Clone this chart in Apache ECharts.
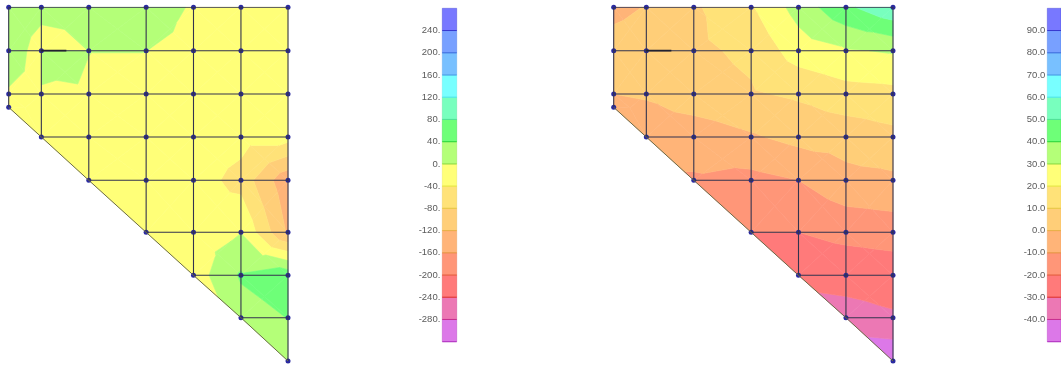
<!DOCTYPE html>
<html>
<head>
<meta charset="utf-8">
<style>html,body{margin:0;padding:0;background:#fff}#c{width:1061px;height:367px}</style>
<script src="https://cdn.jsdelivr.net/npm/echarts@6/dist/echarts.min.js"></script>
</head>
<body>
<div id="c"></div>
<script>
// Mesh stations (model units)
const xStations = [0, 32.6, 80, 137.3, 184.6, 232, 279];
const yStations = [0, 43.4, 86.7, 100, 129.7, 173, 225, 268, 310.4, 353.7];

// Nodal values, one row per station in yStations, one column per station in xStations
const leftValues = [
  [20, 10, 6, 30, -6, -10, -10],
  [19, -15, 0.3, 0.3, -15, -15, -15],
  [-3.6, -4, -2, -10, -15, -15, -15],
  [-6, null, null, null, null, null, null],
  [null, -8, -10, -12, -12, -25, -25],
  [null, null, -8, -10, -20, -55, -150],
  [null, null, null, -8, -16, -1, -125],
  [null, null, null, null, -22, 45, 65],
  [null, null, null, null, null, 20, 41],
  [null, null, null, null, null, null, 15]
];
const rightValues = [
  [-3, 0.5, 8.5, 19, 34, 48, 58],
  [4.5, 6, 8, 12, 25, 29, 31],
  [0, 1, 6, 9, 11.5, 16, 17],
  [-2, null, null, null, null, null, null],
  [null, -6, -6, -1.2, 3, 4, 7.3],
  [null, null, -11, -13, -10, -3, -2],
  [null, null, null, -20, -20, -17, -15.3],
  [null, null, null, null, -28, -27, -26],
  [null, null, null, null, null, -33, -31],
  [null, null, null, null, null, null, -49]
];
// The left field jumps across the beam: this element's upper-left corner differs
const leftJump = { row: 1, col: 1, value: 15 };

// Contour levels and their labels
const leftLevels = [-280, -240, -200, -160, -120, -80, -40, 0, 40, 80, 120, 160, 200, 240];
const leftLabels = ["-280.", "-240.", "-200.", "-160.", "-120.", "-80.", "-40.", "0.", "40.", "80.", "120.", "160.", "200.", "240."];
const rightLevels = [-40, -30, -20, -10, 0, 10, 20, 30, 40, 50, 60, 70, 80, 90];
const rightLabels = ["-40.0", "-30.0", "-20.0", "-10.0", "0.0", "10.0", "20.0", "30.0", "40.0", "50.0", "60.0", "70.0", "80.0", "90.0"];

// Band colours, lowest band first
const bandColors = ['#DC78E8', '#EC78B4', '#FF7A7A', '#FF9678', '#FFB478', '#FFCE78', '#FFE278', '#FFFF78',
  '#B4FF78', '#6EFF78', '#78FFBE', '#78FFFF', '#78C0FF', '#78A0FF', '#7878FF'];
const bandEdges = ['#B030C0', '#C83090', '#E03838', '#E86848', '#E89848', '#E8B048', '#E8C848', '#E8E848',
  '#90E048', '#30D840', '#50E098', '#50E8E8', '#50A0E8', '#4070E0', '#3838D0'];

const chart = echarts.init(document.getElementById('c'), null, { renderer: 'canvas' });

function clip(poly, level, keepAbove) {
  const out = [];
  for (let i = 0; i < poly.length; i++) {
    const a = poly[i], b = poly[(i + 1) % poly.length];
    const ia = keepAbove ? a[2] >= level : a[2] <= level;
    const ib = keepAbove ? b[2] >= level : b[2] <= level;
    if (ia) out.push(a);
    if (ia !== ib) {
      const t = (level - a[2]) / (b[2] - a[2]);
      out.push([a[0] + t * (b[0] - a[0]), a[1] + t * (b[1] - a[1]), level]);
    }
  }
  return out;
}

function buildCells(values) {
  const cells = [];
  const rowsIn = c => values.map((r, i) => r[c] !== null ? i : -1).filter(i => i >= 0);
  for (let c = 0; c < xStations.length - 1; c++) {
    const a = rowsIn(c), b = rowsIn(c + 1);
    const shared = a.filter(i => b.includes(i));
    for (let k = 0; k + 1 < shared.length; k++) {
      cells.push([[shared[k], c], [shared[k], c + 1], [shared[k + 1], c + 1], [shared[k + 1], c]]);
    }
    const last = shared[shared.length - 1];
    const extraA = a.filter(i => i > last), extraB = b.filter(i => i > last);
    if (extraA.length && extraB.length) {
      cells.push([[last, c], [last, c + 1], [extraB[0], c + 1], [extraA[0], c]]);
    } else if (extraB.length) {
      cells.push([[last, c], [last, c + 1], [extraB[0], c + 1]]);
    }
  }
  return cells;
}

function contourItems(values, levels, jump) {
  const polys = [];
  const edges = [-Infinity].concat(levels, [Infinity]);
  buildCells(values).forEach(cell => {
    const p = cell.map(([r, c]) => {
      let v = values[r][c];
      if (jump && cell[0][0] === jump.row && cell[0][1] === jump.col && r === jump.row && c === jump.col) v = jump.value;
      return [xStations[c], yStations[r], v];
    });
    let tris = [];
    if (p.length === 3) tris = [p];
    else {
      const m = [0, 1, 2].map(k => (p[0][k] + p[1][k] + p[2][k] + p[3][k]) / 4);
      for (let i = 0; i < 4; i++) tris.push([p[i], p[(i + 1) % 4], m]);
    }
    tris.forEach(t => {
      for (let b = 0; b < bandColors.length; b++) {
        let q = t;
        if (edges[b] !== -Infinity) q = clip(q, edges[b], true);
        if (q.length && edges[b + 1] !== Infinity) q = clip(q, edges[b + 1], false);
        if (q.length >= 3) polys.push({ b, pts: q });
      }
    });
  });
  return polys;
}

function meshSegments(values) {
  const seg = [];
  const gap = ['-', '-'];
  values.forEach((row, r) => {
    const cols = row.map((v, c) => v !== null ? c : -1).filter(c => c >= 0);
    if (cols.length > 1) {
      seg.push([xStations[cols[0]], yStations[r]], [xStations[cols[cols.length - 1]], yStations[r]], gap);
    }
  });
  xStations.forEach((x, c) => {
    const rows = values.map((row, r) => row[c] !== null ? r : -1).filter(r => r >= 0);
    seg.push([x, yStations[rows[0]]], [x, yStations[rows[rows.length - 1]]], gap);
  });
  return seg;
}

function edgeSegments(values) {
  const pts = [];
  xStations.forEach((x, c) => {
    const rows = values.map((row, r) => row[c] !== null ? r : -1).filter(r => r >= 0);
    pts.push([x, yStations[rows[rows.length - 1]]]);
  });
  return pts;
}

function nodes(values) {
  const out = [];
  values.forEach((row, r) => row.forEach((v, c) => { if (v !== null) out.push([xStations[c], yStations[r]]); }));
  return out;
}

function panelSeries(g, values, levels, jump, beam) {
  const polys = contourItems(values, levels, jump);
  const s = [{
    type: 'custom', xAxisIndex: g, yAxisIndex: g, coordinateSystem: 'cartesian2d', silent: true, z: 1, clip: false,
    encode: { x: 0, y: 1 },
    data: polys.map((p, i) => [p.pts[0][0], p.pts[0][1], i]),
    renderItem: (params, api) => {
      const p = polys[api.value(2)];
      return {
        type: 'polygon',
        shape: { points: p.pts.map(q => api.coord([q[0], q[1]])) },
        style: { fill: bandColors[p.b], stroke: bandColors[p.b], lineWidth: 0.6 }
      };
    }
  }, {
    type: 'scatter', xAxisIndex: g, yAxisIndex: g, silent: true, z: 2, symbolSize: 5,
    itemStyle: { color: '#2A2AA0', opacity: 1 }, data: nodes(values)
  }, {
    type: 'line', xAxisIndex: g, yAxisIndex: g, silent: true, z: 3, symbol: 'none', connectNulls: false,
    lineStyle: { color: '#33334E', width: 1.1 }, data: meshSegments(values)
  }, {
    type: 'line', xAxisIndex: g, yAxisIndex: g, silent: true, z: 3, symbol: 'none',
    lineStyle: { color: '#6A6A48', width: 1 }, data: edgeSegments(values)
  }];
  if (beam) s.push({
    type: 'line', xAxisIndex: g, yAxisIndex: g, silent: true, z: 3, symbol: 'none',
    lineStyle: { color: '#222230', width: 1.8 }, data: beam
  });
  return s;
}

function barSeries(g, levels, lo, hi) {
  const edges = [lo].concat(levels, [hi]);
  return {
    type: 'custom', xAxisIndex: g, yAxisIndex: g, coordinateSystem: 'cartesian2d', silent: true, clip: false, z: 2,
    encode: { x: 0, y: 1 },
    data: bandColors.map((c, i) => [0, edges[i], edges[i + 1], i]),
    renderItem: (params, api) => {
      const i = api.value(3);
      const a = api.coord([0, api.value(2)]), b = api.coord([1, api.value(1)]);
      return {
        type: 'group',
        children: [
          { type: 'rect', z2: 1, shape: { x: a[0], y: a[1], width: b[0] - a[0], height: b[1] - a[1] },
            style: { fill: bandColors[i], stroke: bandEdges[i], lineWidth: 0.4 } },
          { type: 'line', z2: 10, shape: { x1: a[0], y1: b[1], x2: b[0], y2: b[1] },
            style: { stroke: bandEdges[i], lineWidth: 1 } }
        ]
      };
    }
  };
}

function hiddenX(g, min, max) {
  return { type: 'value', gridIndex: g, min, max, show: false };
}
function hiddenY(g, min, max) {
  return { type: 'value', gridIndex: g, min, max, inverse: true, show: false };
}
function barY(g, min, max, interval, levels, labels) {
  return {
    type: 'value', gridIndex: g, min, max, interval,
    axisLine: { show: false }, axisTick: { show: false }, splitLine: { show: false },
    axisLabel: {
      show: true, margin: 2, color: '#5A5A5A', fontFamily: 'Liberation Sans', fontSize: 9.5,
      formatter: v => { const i = levels.indexOf(v); return i >= 0 ? labels[i] : ''; }
    }
  };
}

const xMax = xStations[xStations.length - 1], yMax = yStations[yStations.length - 1];
chart.setOption({
  animation: false,
  backgroundColor: '#fff',
  grid: [
    { left: 8.7, top: 7.3, width: 279.3, height: 353.7 },
    { left: 613.7, top: 7.3, width: 279.3, height: 353.7 },
    { left: 442.3, top: 8.3, width: 14.4, height: 333.4 },
    { left: 1047.3, top: 8.3, width: 14.4, height: 333.4 }
  ],
  xAxis: [hiddenX(0, 0, xMax), hiddenX(1, 0, xMax), hiddenX(2, 0, 1), hiddenX(3, 0, 1)],
  yAxis: [hiddenY(0, 0, yMax), hiddenY(1, 0, yMax),
    barY(2, -320, 280, 40, leftLevels, leftLabels),
    barY(3, -50, 100, 10, rightLevels, rightLabels)],
  series: [
    ...panelSeries(0, leftValues, leftLevels, leftJump, [[xStations[1], yStations[1]], [xStations[1] + 25, yStations[1]]]),
    ...panelSeries(1, rightValues, rightLevels, null, [[xStations[1], yStations[1]], [xStations[1] + 25, yStations[1]]]),
    barSeries(2, leftLevels, -320, 280),
    barSeries(3, rightLevels, -50, 100)
  ]
});
</script>
</body>
</html>
